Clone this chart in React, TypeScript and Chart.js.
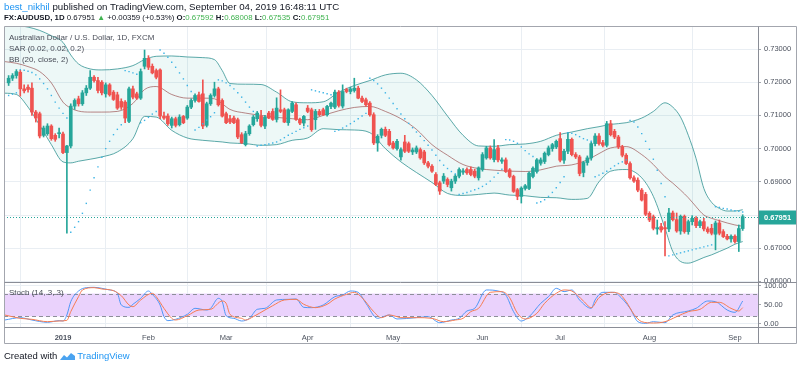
import React, { useEffect, useRef } from "react";
import { Chart, registerables } from "chart.js";
Chart.register(...registerables);

// ---------- DATA (daily AUDUSD bars, Dec 11 2018 .. Sep 4 2019) ----------
const opens = [
  0.7198,0.7212,0.7220,0.7230,0.7180,0.7185,0.7182,0.7110,0.7105,0.7040,0.7045,0.7068,0.7040,0.7045,0.7044,0.6988,0.7008,0.7128,0.7150,0.7135,
  0.7168,0.7182,0.7215,0.7205,0.7200,0.7165,0.7192,0.7170,0.7162,0.7142,0.7140,0.7082,0.7180,0.7165,0.7152,0.7248,0.7272,0.7248,0.7235,0.7237,
  0.7098,0.7098,0.7070,0.7090,0.7072,0.7097,0.7092,0.7125,0.7145,0.7162,0.7165,0.7070,0.7135,0.7160,0.7180,0.7145,0.7105,0.7090,0.7092,0.7087,
  0.7042,0.7012,0.7045,0.7072,0.7090,0.7097,0.7068,0.7107,0.7112,0.7088,0.7117,0.7117,0.7078,0.7112,0.7132,0.7087,0.7077,0.7122,0.7117,0.7087,
  0.7112,0.7117,0.7102,0.7127,0.7125,0.7170,0.7128,0.7178,0.7172,0.7175,0.7182,0.7152,0.7147,0.7137,0.7102,0.7017,0.7040,0.7058,0.7052,0.7017,
  0.7000,0.6975,0.7020,0.7015,0.6990,0.6990,0.6997,0.6990,0.6957,0.6947,0.6922,0.6897,0.6902,0.6907,0.6882,0.6902,0.6917,0.6929,0.6937,0.6937,
  0.6932,0.6912,0.6937,0.6972,0.7002,0.6967,0.7002,0.6962,0.6966,0.6936,0.6916,0.6876,0.6856,0.6880,0.6880,0.6916,0.6931,0.6956,0.6961,0.6982,
  0.7000,0.7005,0.7030,0.6965,0.6992,0.7028,0.6982,0.6975,0.6928,0.6958,0.6972,0.7015,0.7038,0.7018,0.7010,0.7075,0.7052,0.7035,0.7005,0.6980,
  0.6955,0.6912,0.6905,0.6875,0.6862,0.6805,0.6795,0.6758,0.6765,0.6762,0.6758,0.6806,0.6786,0.6752,0.6796,0.6750,0.6780,0.6790,0.6768,0.6780,
  0.6758,0.6760,0.6742,0.6776,0.6750,0.6736,0.6728,0.6736,0.6720,0.67592
];
const highs = [
  0.7220,0.7226,0.7238,0.7236,0.7192,0.7192,0.7198,0.7115,0.7110,0.7068,0.7075,0.7072,0.7045,0.7062,0.7050,0.7010,0.7135,0.7150,0.7158,0.7175,
  0.7190,0.7235,0.7220,0.7215,0.7205,0.7198,0.7196,0.7175,0.7170,0.7150,0.7145,0.7185,0.7188,0.7170,0.7240,0.7297,0.7280,0.7255,0.7240,0.7240,
  0.7110,0.7105,0.7095,0.7095,0.7102,0.7100,0.7130,0.7150,0.7165,0.7170,0.7207,0.7140,0.7165,0.7200,0.7185,0.7150,0.7110,0.7100,0.7098,0.7092,
  0.7048,0.7052,0.7072,0.7100,0.7112,0.7115,0.7100,0.7112,0.7120,0.7153,0.7177,0.7122,0.7120,0.7142,0.7138,0.7092,0.7100,0.7130,0.7122,0.7118,
  0.7118,0.7122,0.7130,0.7140,0.7176,0.7175,0.7192,0.7182,0.7185,0.7212,0.7188,0.7158,0.7152,0.7142,0.7108,0.7042,0.7062,0.7065,0.7058,0.7022,
  0.7028,0.7002,0.7040,0.7020,0.7002,0.7008,0.7002,0.6995,0.6962,0.6952,0.6928,0.6902,0.6925,0.6912,0.6908,0.6922,0.6942,0.6940,0.6942,0.6945,
  0.6938,0.6945,0.6988,0.7007,0.7008,0.7027,0.7010,0.6972,0.6972,0.6940,0.6920,0.6880,0.6885,0.6892,0.6930,0.6945,0.6970,0.6972,0.6990,0.7008,
  0.7016,0.7026,0.7048,0.6998,0.7048,0.7032,0.6988,0.6980,0.6962,0.6978,0.7020,0.7045,0.7045,0.7025,0.7082,0.7085,0.7058,0.7040,0.7010,0.6985,
  0.6960,0.6918,0.6912,0.6880,0.6868,0.6810,0.6800,0.6785,0.6775,0.6780,0.6820,0.6812,0.6806,0.6800,0.6800,0.6785,0.6798,0.6795,0.6785,0.6790,
  0.6764,0.6772,0.6782,0.6785,0.6756,0.6742,0.6740,0.6740,0.6770,0.68008
];
const lows = [
  0.7190,0.7205,0.7212,0.7158,0.7168,0.7170,0.7100,0.7080,0.7032,0.7035,0.7040,0.7025,0.7022,0.7032,0.6985,0.6745,0.7002,0.7118,0.7128,0.7130,
  0.7160,0.7178,0.7200,0.7168,0.7162,0.7155,0.7158,0.7145,0.7118,0.7118,0.7078,0.7078,0.7150,0.7148,0.7148,0.7240,0.7238,0.7225,0.7210,0.7090,
  0.7088,0.7070,0.7062,0.7065,0.7068,0.7075,0.7088,0.7120,0.7140,0.7140,0.7060,0.7065,0.7130,0.7155,0.7128,0.7095,0.7075,0.7075,0.7075,0.7030,
  0.7015,0.7008,0.7040,0.7068,0.7082,0.7065,0.7060,0.7090,0.7085,0.7080,0.7108,0.7078,0.7070,0.7108,0.7085,0.7072,0.7068,0.7108,0.7052,0.7058,
  0.7098,0.7100,0.7098,0.7120,0.7120,0.7125,0.7122,0.7168,0.7165,0.7170,0.7150,0.7138,0.7128,0.7098,0.7012,0.6992,0.7032,0.7036,0.7008,0.6998,
  0.6995,0.6965,0.6988,0.6988,0.6982,0.6985,0.6968,0.6952,0.6942,0.6928,0.6888,0.6862,0.6895,0.6885,0.6872,0.6895,0.6912,0.6922,0.6922,0.6918,
  0.6912,0.6905,0.6932,0.6968,0.6968,0.6960,0.6960,0.6955,0.6928,0.6912,0.6868,0.6846,0.6836,0.6875,0.6876,0.6912,0.6926,0.6950,0.6955,0.6978,
  0.6992,0.7000,0.6960,0.6955,0.6985,0.6978,0.6970,0.6918,0.6915,0.6950,0.6965,0.7008,0.7010,0.7005,0.7005,0.7038,0.7030,0.7000,0.6975,0.6952,
  0.6908,0.6898,0.6870,0.6842,0.6798,0.6780,0.6755,0.6742,0.6748,0.6677,0.6750,0.6782,0.6748,0.6742,0.6745,0.6742,0.6770,0.6762,0.6762,0.6752,
  0.6745,0.6740,0.6695,0.6740,0.6732,0.6725,0.6718,0.6715,0.6690,0.67535
];
const closes = [
  0.7212,0.7220,0.7232,0.7180,0.7174,0.7178,0.7110,0.7092,0.7038,0.7062,0.7068,0.7030,0.7028,0.7046,0.6988,0.7008,0.7128,0.7145,0.7135,0.7168,
  0.7182,0.7215,0.7205,0.7175,0.7168,0.7192,0.7162,0.7148,0.7122,0.7125,0.7092,0.7180,0.7155,0.7152,0.7232,0.7272,0.7245,0.7228,0.7215,0.7098,
  0.7092,0.7075,0.7090,0.7070,0.7095,0.7078,0.7125,0.7145,0.7160,0.7142,0.7068,0.7135,0.7160,0.7180,0.7132,0.7098,0.7078,0.7080,0.7078,0.7035,
  0.7018,0.7045,0.7068,0.7095,0.7107,0.7070,0.7095,0.7092,0.7088,0.7122,0.7112,0.7080,0.7117,0.7137,0.7088,0.7077,0.7097,0.7112,0.7057,0.7112,
  0.7102,0.7102,0.7127,0.7137,0.7170,0.7130,0.7172,0.7172,0.7180,0.7182,0.7152,0.7142,0.7132,0.7102,0.7017,0.7037,0.7058,0.7040,0.7012,0.7002,
  0.7022,0.6997,0.6992,0.6992,0.6996,0.7002,0.6972,0.6957,0.6947,0.6932,0.6892,0.6872,0.6917,0.6892,0.6902,0.6917,0.6937,0.6933,0.6927,0.6922,
  0.6917,0.6942,0.6982,0.7002,0.6972,0.6997,0.6966,0.6966,0.6931,0.6916,0.6871,0.6856,0.6881,0.6888,0.6926,0.6941,0.6966,0.6966,0.6986,0.7002,
  0.7012,0.7022,0.6965,0.6992,0.7028,0.6982,0.6975,0.6925,0.6958,0.6972,0.7015,0.7038,0.7015,0.7010,0.7075,0.7042,0.7035,0.7005,0.6980,0.6955,
  0.6912,0.6902,0.6875,0.6845,0.6802,0.6785,0.6760,0.6762,0.6755,0.6758,0.6806,0.6786,0.6752,0.6796,0.6750,0.6780,0.6790,0.6768,0.6780,0.6758,
  0.6750,0.6745,0.6776,0.6745,0.6735,0.6728,0.6736,0.6720,0.67592,0.67951
];

// Parabolic SAR (0.02, 0.02, 0.2), one value per bar
const sar = [
  0.7160,0.7164,0.7168,0.7238,0.7236,0.7233,0.7229,0.7222,0.7210,0.7196,0.7180,0.7160,0.7140,0.7122,0.7106,0.7092,0.6748,0.6763,0.6780,0.6805,
  0.6835,0.6875,0.6912,0.6945,0.6974,0.7000,0.7022,0.7042,0.7058,0.7072,0.7235,0.7232,0.7228,0.7224,0.7078,0.7085,0.7094,0.7104,0.7112,0.7297,
  0.7287,0.7275,0.7260,0.7245,0.7228,0.7210,0.7190,0.7172,0.7056,0.7064,0.7075,0.7086,0.7096,0.7108,0.7207,0.7204,0.7198,0.7190,0.7180,0.7168,
  0.7155,0.7140,0.7125,0.7112,0.7008,0.7010,0.7012,0.7014,0.7017,0.7020,0.7026,0.7033,0.7040,0.7046,0.7052,0.7058,0.7063,0.7068,0.7177,0.7174,
  0.7171,0.7168,0.7165,0.7162,0.7052,0.7056,0.7062,0.7068,0.7075,0.7082,0.7090,0.7098,0.7106,0.7212,0.7205,0.7195,0.7182,0.7168,0.7152,0.7136,
  0.7120,0.7104,0.7090,0.7076,0.7063,0.7050,0.7037,0.7024,0.7010,0.6996,0.6980,0.6964,0.6950,0.6940,0.6931,0.6924,0.6862,0.6865,0.6868,0.6872,
  0.6876,0.6880,0.6886,0.6893,0.6902,0.6914,0.6926,0.6938,0.7027,0.7026,0.7022,0.7016,0.7005,0.6994,0.6984,0.6976,0.6836,0.6840,0.6846,0.6856,
  0.6868,0.6882,0.6898,0.6915,0.7048,0.7046,0.7042,0.7036,0.7030,0.7026,0.7022,0.6915,0.6920,0.6926,0.6932,0.6940,0.6948,0.6955,0.6960,0.6966,
  0.7085,0.7080,0.7065,0.7045,0.7022,0.6998,0.6968,0.6935,0.6895,0.6855,0.6677,0.6680,0.6683,0.6686,0.6689,0.6692,0.6695,0.6698,0.6701,0.6704,
  0.6707,0.6710,0.6825,0.6823,0.6820,0.6818,0.6815,0.6813,0.6811,0.6809
];

// Bollinger Bands (20, close, 2) read at these bar positions
const bbIdx = [-1,2,5,8,11,14,16,18,21,24,28,32,35,38,42,46,50,53,55,57,61,65,69,73,77,81,85,89,93,97,101,105,109,113,117,121,125,129,133,137,141,145,149,152,155,159,163,166,169,171,173,175,177,179,181,183,185,187,189];
const bbUpper = [0.7378,0.7372,0.7366,0.7356,0.7340,0.7320,0.7282,0.7255,0.7240,0.7237,0.7240,0.7250,0.7268,0.7278,0.7279,0.7276,0.7274,0.7268,0.7235,0.7196,0.7194,0.7193,0.7170,0.7141,0.7138,0.7141,0.7170,0.7190,0.7205,0.7222,0.7227,0.7207,0.7160,0.7098,0.7040,0.7008,0.7007,0.7012,0.7014,0.7022,0.7040,0.7050,0.7060,0.7066,0.7073,0.7078,0.7092,0.7112,0.7138,0.7125,0.7095,0.7040,0.6970,0.6880,0.6838,0.6820,0.6812,0.6812,0.6816];
const bbBasis = [0.7262,0.7257,0.7247,0.7232,0.7198,0.7140,0.7122,0.7113,0.7110,0.7110,0.7112,0.7136,0.7178,0.7187,0.7163,0.7152,0.7152,0.7150,0.7135,0.7118,0.7107,0.7100,0.7094,0.7090,0.7087,0.7100,0.7114,0.7124,0.7127,0.7112,0.7090,0.7058,0.7012,0.6980,0.6952,0.6940,0.6935,0.6932,0.6931,0.6936,0.6947,0.6951,0.6966,0.6985,0.7002,0.7006,0.6982,0.6952,0.6915,0.6896,0.6875,0.6852,0.6825,0.6800,0.6790,0.6783,0.6776,0.6770,0.6766];
const bbLower = [0.7167,0.7163,0.7125,0.7070,0.7012,0.6960,0.6957,0.6962,0.6968,0.6975,0.6990,0.7030,0.7097,0.7095,0.7055,0.7032,0.7025,0.7022,0.7020,0.7017,0.7015,0.7010,0.7012,0.7025,0.7032,0.7060,0.7057,0.7056,0.7048,0.7000,0.6960,0.6928,0.6898,0.6865,0.6859,0.6862,0.6866,0.6860,0.6858,0.6853,0.6852,0.6847,0.6850,0.6900,0.6932,0.6937,0.6912,0.6856,0.6760,0.6690,0.6660,0.6655,0.6662,0.6672,0.6680,0.6690,0.6700,0.6712,0.6720];

// Stochastic (14, 3, 3)
const stochKIdx = [-1,3,6,10,13,14,15,16,18,20,22,24,26,28,29,31,32,34,36,37,39,40,41,43,46,48,51,52,54,55,56,58,60,62,64,66,69,72,74,76,78,81,84,86,88,90,92,95,96,98,100,105,108,111,114,116,118,120,123,126,128,130,132,134,137,139,141,143,145,147,150,151,153,156,157,160,162,164,166,169,171,175,177,180,182,185,187,189];
const stochK = [10.5,16.7,10.5,4.4,8.8,7.9,23.7,58.8,86.8,95.6,96.5,93.9,89.5,80.7,50,43.8,51.8,67.5,86.8,78,50,19.3,8.8,12.3,25.4,41.2,36.8,41.2,67.5,58.8,21.9,14.9,7.9,14.9,38.6,41.2,63.2,64.9,65.8,43.8,43,50,71.9,76.3,86.8,83.3,54.4,14.9,17.5,23.7,13.2,16.7,19.3,3.5,10.5,14.9,34.2,41.2,89.5,86.8,76.3,32.5,7.9,19.3,54.4,71.9,93.9,85.1,89.5,63.2,41.2,63.2,83.3,83.3,76.3,41.2,6.1,1.8,6.1,3.5,23.7,34.2,41.2,60.5,58.8,36.8,30.7,60.5];
const stochDIdx = [-1,3,6,10,13,15,16,18,19,22,24,27,29,31,32,34,37,38,40,42,43,46,49,52,55,56,57,60,61,63,66,68,71,74,76,79,82,84,87,89,91,94,96,98,100,101,105,109,112,115,117,119,121,124,127,129,131,133,136,138,141,143,145,148,150,152,155,157,159,161,163,166,169,172,175,178,181,183,186,188,189];
const stochD = [23.7,14.9,12.3,6.1,7.9,9.6,32.5,72,89.5,95.6,92.1,87.7,74.6,50,45.6,63.2,80.7,71.9,41.2,14.9,10.5,21.9,36.8,38.6,60.5,54.4,25.4,14.9,10.5,19.3,36.8,48.2,63.2,64.9,51.8,43,51.8,65.8,78,83.3,69.3,32.5,16.7,23.7,19.3,16.7,16.7,14.9,6.1,10.5,14.9,32.5,41.2,83.3,85.1,69.3,28.1,13.2,28.1,54.4,80.7,89.5,86.8,60.5,43,69.3,83.3,80.7,58.8,25.4,6.1,2.6,6.1,19.3,32.5,38.6,57,57,41.2,34.2,43];

// Axis ticks
const monthTickIdx = [14, 36, 56, 77, 99, 122, 142, 165, 187];
const monthTickLabels = ["2019", "Feb", "Mar", "Apr", "May", "Jun", "Jul", "Aug", "Sep"];
const priceTicks = [0.66, 0.67, 0.68, 0.69, 0.70, 0.71, 0.72, 0.73];
const stochTicks = [0, 50, 100];
const lastPrice = 0.67951;

// ---------- STYLE ----------
const UP = "#26a69a";
const DOWN = "#ef5350";
const GRID = "#e9eef3";
const FRAME = "#a3a6ae";
const TXT = "#4c525e";
const FONT = "'Liberation Sans', Arial, sans-serif";

const framePlugin = {
  id: "tvFrame",
  beforeDatasetsDraw(chart: any) {
    const { ctx, chartArea: ca } = chart;
    const y2 = chart.scales.y2;
    const t = y2.getPixelForValue(80);
    const b = y2.getPixelForValue(20);
    ctx.save();
    ctx.fillStyle = "rgb(234, 210, 252)";
    ctx.fillRect(ca.left, t, ca.right - ca.left, b - t);
    ctx.strokeStyle = "#8d8f99";
    ctx.lineWidth = 1;
    ctx.setLineDash([4, 3]);
    for (const yy of [t, b]) {
      ctx.beginPath();
      ctx.moveTo(ca.left, Math.round(yy) + 0.5);
      ctx.lineTo(ca.right, Math.round(yy) + 0.5);
      ctx.stroke();
    }
    ctx.restore();
  },
  afterDraw(chart: any) {
    const { ctx, chartArea: ca } = chart;
    const y = chart.scales.y;
    const y2 = chart.scales.y2;
    ctx.save();
    const py = Math.round(y.getPixelForValue(lastPrice)) + 0.5;
    ctx.strokeStyle = UP;
    ctx.lineWidth = 1;
    ctx.setLineDash([1, 2]);
    ctx.beginPath();
    ctx.moveTo(ca.left, py);
    ctx.lineTo(ca.right, py);
    ctx.stroke();
    ctx.setLineDash([]);
    ctx.fillStyle = UP;
    ctx.fillRect(ca.right + 1, py - 7, 38, 14);
    ctx.fillStyle = "#ffffff";
    ctx.font = `bold 7.5px ${FONT}`;
    ctx.textBaseline = "middle";
    ctx.textAlign = "left";
    ctx.fillText(lastPrice.toFixed(5), ca.right + 6, py + 0.5);
    ctx.strokeStyle = FRAME;
    ctx.lineWidth = 1;
    const L = 4.5, R = 796.5, T = 26.5, B = 343.5;
    ctx.beginPath();
    ctx.moveTo(L, T); ctx.lineTo(R, T);
    ctx.moveTo(L, T); ctx.lineTo(L, B);
    ctx.moveTo(L, B); ctx.lineTo(R, B);
    ctx.moveTo(R, T); ctx.lineTo(R, B);
    ctx.stroke();
    ctx.strokeStyle = "#8a8d96";
    const sep = Math.round(y2.top) + 0.5;
    const bot = Math.round(ca.bottom) + 0.5;
    const ax = Math.round(ca.right) + 0.5;
    ctx.beginPath();
    ctx.moveTo(L, sep); ctx.lineTo(R, sep);
    ctx.moveTo(L, bot); ctx.lineTo(R, bot);
    ctx.moveTo(ax, T); ctx.lineTo(ax, B);
    ctx.stroke();
    ctx.restore();
  },
};

export default function App() {
  const ref = useRef<HTMLCanvasElement | null>(null);

  useEffect(() => {
    const canvas = ref.current;
    if (!canvas) return;
    const idx = closes.map((_, i) => i);
    const colors = closes.map((c, i) => (c >= opens[i] ? UP : DOWN));
    const chart = new Chart(canvas, {
      type: "bar",
      data: {
        datasets: [
          {
            type: "line",
            label: "BB upper",
            data: bbIdx.map((x, k) => ({ x, y: bbUpper[k] })),
            borderColor: "rgba(38, 140, 140, 0.75)",
            borderWidth: 1,
            pointRadius: 0,
            fill: false,
            cubicInterpolationMode: "monotone",
            order: 10,
            yAxisID: "y",
          },
          {
            type: "line",
            label: "BB lower",
            data: bbIdx.map((x, k) => ({ x, y: bbLower[k] })),
            borderColor: "rgba(38, 140, 140, 0.75)",
            backgroundColor: "rgba(0, 150, 136, 0.07)",
            borderWidth: 1,
            pointRadius: 0,
            fill: "-1",
            cubicInterpolationMode: "monotone",
            order: 10,
            yAxisID: "y",
          },
          {
            type: "line",
            label: "BB basis",
            data: bbIdx.map((x, k) => ({ x, y: bbBasis[k] })),
            borderColor: "rgba(150, 70, 70, 0.65)",
            borderWidth: 1,
            pointRadius: 0,
            fill: false,
            cubicInterpolationMode: "monotone",
            order: 9,
            yAxisID: "y",
          },
          {
            type: "bar",
            label: "wicks",
            data: idx.map((i) => ({ x: i, y: [lows[i], highs[i]] })),
            backgroundColor: colors,
            barThickness: 1,
            grouped: false,
            order: 5,
            yAxisID: "y",
          },
          {
            type: "bar",
            label: "bodies",
            data: idx.map((i) => ({ x: i, y: [opens[i], closes[i]] })),
            backgroundColor: colors,
            barThickness: 3,
            minBarLength: 1,
            grouped: false,
            order: 4,
            yAxisID: "y",
          },
          {
            type: "line",
            label: "SAR",
            data: idx.map((i) => ({ x: i, y: sar[i] })),
            showLine: false,
            pointStyle: "rect",
            pointRadius: 1,
            pointBorderWidth: 0,
            pointBackgroundColor: "#3cb4e6",
            order: 3,
            yAxisID: "y",
          },
          {
            type: "line",
            label: "%K",
            data: stochKIdx.map((x, k) => ({ x, y: stochK[k] })),
            borderColor: "#4f97f7",
            borderWidth: 1,
            pointRadius: 0,
            cubicInterpolationMode: "monotone",
            order: 2,
            yAxisID: "y2",
          },
          {
            type: "line",
            label: "%D",
            data: stochDIdx.map((x, k) => ({ x, y: stochD[k] })),
            borderColor: "#f77c52",
            borderWidth: 1,
            pointRadius: 0,
            cubicInterpolationMode: "monotone",
            order: 1,
            yAxisID: "y2",
          },
        ] as any,
      },
      options: {
        animation: false,
        responsive: false,
        maintainAspectRatio: false,
        devicePixelRatio: 1,
        events: [],
        layout: { padding: { left: 4, top: 26, right: 0, bottom: 0 } },
        plugins: { legend: { display: false }, tooltip: { enabled: false } },
        scales: {
          x: {
            type: "linear",
            min: -1.19,
            max: 192.94,
            offset: false,
            afterBuildTicks: (s: any) => {
              s.ticks = monthTickIdx.map((v) => ({ value: v }));
            },
            afterFit: (s: any) => {
              s.height = 17;
            },
            grid: { color: GRID, drawTicks: false },
            border: { color: "#8a8d96" },
            ticks: {
              autoSkip: false,
              maxRotation: 0,
              padding: 6,
              color: TXT,
              font: (c: any) => ({
                size: 7.5,
                family: FONT,
                weight: c.tick && c.tick.value === monthTickIdx[0] ? "bold" : "normal",
              }),
              callback: (v: any) => {
                const k = monthTickIdx.indexOf(Number(v));
                return k >= 0 ? monthTickLabels[k] : "";
              },
            },
          },
          y: {
            type: "linear",
            position: "right",
            stack: "pane",
            stackWeight: 256,
            min: 0.65982,
            max: 0.73693,
            afterBuildTicks: (s: any) => {
              s.ticks = priceTicks.map((v) => ({ value: v }));
            },
            afterFit: (s: any) => {
              s.width = 42;
            },
            grid: { color: GRID, tickColor: FRAME, tickLength: 3 },
            border: { color: "#8a8d96" },
            ticks: {
              autoSkip: false,
              padding: 3,
              color: TXT,
              font: { size: 7.5, family: FONT },
              callback: (v: any) => Number(v).toFixed(5),
            },
          },
          y2: {
            type: "linear",
            position: "right",
            stack: "pane",
            stackWeight: 45,
            min: -7.9,
            max: 110.5,
            afterBuildTicks: (s: any) => {
              s.ticks = stochTicks.map((v) => ({ value: v }));
            },
            afterFit: (s: any) => {
              s.width = 42;
            },
            grid: { color: GRID, tickColor: FRAME, tickLength: 3 },
            border: { color: "#8a8d96" },
            ticks: {
              autoSkip: false,
              padding: 3,
              color: TXT,
              font: { size: 7.5, family: FONT },
              callback: (v: any) => Number(v).toFixed(2),
            },
          },
        },
      } as any,
      plugins: [framePlugin],
    });
    return () => chart.destroy();
  }, []);

  const base: React.CSSProperties = {
    position: "absolute",
    fontFamily: FONT,
    whiteSpace: "nowrap",
  };
  const green = "#3fb34f";

  return (
    <div style={{ position: "absolute", left: 0, top: 0, width: 800, height: 368, background: "#ffffff", overflow: "hidden" }}>
      <canvas ref={ref} width={800} height={344} style={{ position: "absolute", left: 0, top: 0, width: 800, height: 344 }} />
      <div style={{ ...base, left: 4, top: 1, fontSize: 9.7, lineHeight: "12px", color: "#131722" }}>
        <span style={{ color: "#2196f3" }}>best_nikhil</span> published on TradingView.com, September 04, 2019 16:48:11 UTC
      </div>
      <div style={{ ...base, left: 4, top: 12, fontSize: 7.85, lineHeight: "12px", color: "#131722" }}>
        <b>FX:AUDUSD, 1D</b> 0.67951 <span style={{ color: green }}>▲</span> +0.00359 (+0.53%) <b>O:</b>
        <span style={{ color: green }}>0.67592</span> <b>H:</b>
        <span style={{ color: green }}>0.68008</span> <b>L:</b>
        <span style={{ color: green }}>0.67535</span> <b>C:</b>
        <span style={{ color: green }}>0.67951</span>
      </div>
      <div style={{ ...base, left: 9, top: 32, fontSize: 8, lineHeight: "11px", color: "#4a4e59" }}>
        Australian Dollar / U.S. Dollar, 1D, FXCM
      </div>
      <div style={{ ...base, left: 9, top: 43, fontSize: 8, lineHeight: "11px", color: "#4a4e59" }}>SAR (0.02, 0.02, 0.2)</div>
      <div style={{ ...base, left: 9, top: 54, fontSize: 8, lineHeight: "11px", color: "#4a4e59" }}>BB (20, close, 2)</div>
      <div style={{ ...base, left: 9, top: 287, fontSize: 8, lineHeight: "11px", color: "#4a4e59" }}>Stoch (14, 3, 3)</div>
      <div style={{ ...base, left: 4, top: 350, fontSize: 9.5, lineHeight: "12px", color: "#131722", display: "flex", alignItems: "center" }}>
        <span>Created with</span>
        <svg width="15" height="9" viewBox="0 0 15 9" style={{ margin: "0 2px 0 3px" }}>
          <path d="M0 8 L4 3 L7 5.5 L11 1 L15 4 L15 8 Z" fill="#4aa3f0" />
        </svg>
        <span style={{ color: "#2196f3" }}>TradingView</span>
      </div>
    </div>
  );
}
